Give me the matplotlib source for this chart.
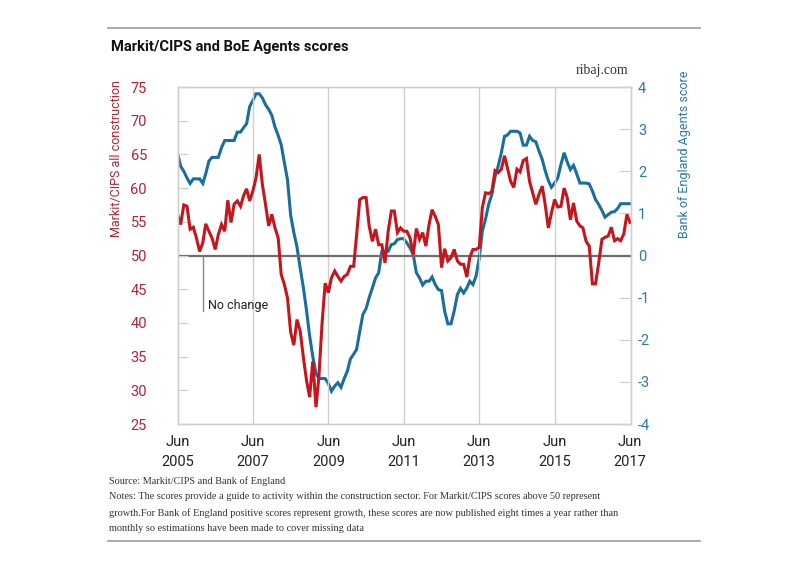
import numpy as np
import pandas as pd
import matplotlib
matplotlib.use("Agg")
import matplotlib.pyplot as plt

# ---- data, monthly from Jun 2005 ----
markit = [56.1, 54.6, 57.5, 57.3, 53.9, 54.2, 52.6, 50.6, 51.9, 54.7,
          53.6, 52.6, 50.9, 53.1, 54.6, 53.6, 58.2, 54.9, 57.6, 58.1,
          57.3, 58.8, 59.9, 58.1, 59.6, 61.5, 65.0, 60.5, 57.6, 54.4,
          56.1, 54.1, 52.6, 47.2, 45.7, 43.7, 38.6, 36.7, 40.5, 38.8,
          35.0, 31.5, 29.0, 34.3, 27.5, 32.0, 40.0, 45.9, 44.5, 46.7,
          47.7, 46.9, 46.2, 46.9, 47.2, 48.4, 48.4, 53.0, 58.3, 58.6,
          58.6, 54.4, 52.1, 53.9, 51.6, 51.6, 48.9, 53.6, 56.6, 56.6,
          53.4, 54.1, 53.6, 53.6, 52.6, 50.1, 54.0, 52.4, 53.4, 51.4,
          54.6, 56.8, 55.8, 54.6, 48.2, 51.0, 49.2, 49.7, 50.9, 49.2,
          48.7, 48.7, 46.8, 49.7, 50.9, 50.9, 51.2, 57.1, 59.3, 59.2,
          59.5, 62.6, 62.3, 62.8, 64.8, 63.0, 61.0, 60.1, 62.8, 62.4,
          64.1, 64.4, 61.0, 59.3, 57.6, 59.1, 60.3, 57.6, 54.1, 56.3,
          58.3, 57.2, 57.3, 60.0, 58.6, 55.3, 57.8, 55.1, 54.4, 54.1,
          52.1, 51.4, 45.8, 45.8, 48.9, 52.4, 52.7, 52.9, 54.2, 52.2,
          52.5, 52.2, 53.2, 56.1, 54.9]

boe = [2.44, 2.12, 2.00, 1.84, 1.71, 1.82, 1.82, 1.82, 1.71, 1.94,
       2.24, 2.33, 2.33, 2.33, 2.56, 2.73, 2.73, 2.73, 2.73, 2.93,
       2.93, 3.03, 3.13, 3.54, 3.68, 3.84, 3.84, 3.74, 3.58, 3.47,
       3.33, 3.05, 2.85, 2.63, 2.20, 1.80, 0.95, 0.55, 0.20, -0.30,
       -0.75, -1.30, -1.90, -2.40, -2.80, -2.92, -2.92, -2.92, -3.04, -3.22,
       -3.10, -3.02, -3.13, -2.92, -2.75, -2.45, -2.34, -2.23, -1.80, -1.40,
       -1.26, -1.00, -0.77, -0.53, -0.41, 0.10, 0.10, 0.10, 0.26, 0.28,
       0.38, 0.40, 0.40, 0.30, 0.18, 0.02, -0.41, -0.53, -0.70, -0.61,
       -0.61, -0.51, -0.69, -0.81, -0.83, -1.32, -1.62, -1.62, -1.32, -0.93,
       -0.78, -0.89, -0.77, -0.61, -0.69, -0.49, -0.06, 0.58, 0.87, 1.22,
       1.45, 1.87, 2.12, 2.44, 2.83, 2.86, 2.95, 2.95, 2.95, 2.91,
       2.62, 2.62, 2.83, 2.73, 2.70, 2.48, 2.28, 2.02, 1.78, 1.62,
       1.72, 1.84, 2.16, 2.44, 2.22, 2.04, 2.14, 1.94, 1.72, 1.72,
       1.72, 1.70, 1.53, 1.33, 1.21, 1.07, 0.91, 0.97, 1.03, 1.04,
       1.12, 1.23, 1.23, 1.23, 1.23]

left_ticks = [25, 30, 35, 40, 45, 50, 55, 60, 65, 70, 75]
right_ticks = [-4, -3, -2, -1, 0, 1, 2, 3, 4]
tick_years = [2005, 2007, 2009, 2011, 2013, 2015, 2017]

dates = pd.date_range("2005-06-01", periods=len(markit), freq="MS")

RED = "#c4161c"
BLUE = "#1a6e9e"
RED_TXT = "#b02433"
BLUE_TXT = "#2a7aa8"
GRID = "#cfcfcf"

plt.rcParams["font.family"] = ["Roboto", "DejaVu Sans"]

fig = plt.figure(figsize=(8, 5.71), dpi=100)
ax = fig.add_axes([0.2219, 0.2574, 0.5669, 0.5902])
ax2 = ax.twinx()
ax.set_zorder(ax2.get_zorder() + 1)
ax.patch.set_visible(False)

ax2.plot(dates, boe, color=BLUE, lw=2.2, solid_joinstyle="miter")
ax.plot(dates, markit, color=RED, lw=2.2, solid_joinstyle="miter")

# no change line
ax.axhline(50, color="#6e6e6e", lw=1.6, zorder=1)

ax.set_ylim(25, 75)
ax2.set_ylim(-4, 4)
ax.set_xlim(pd.Timestamp("2005-06-01"), pd.Timestamp("2017-06-10"))

xt = [pd.Timestamp(f"{y}-06-01") for y in tick_years]
ax.set_xticks(xt)
ax.set_xticklabels([f"Jun\n{y}" for y in tick_years], linespacing=1.55)
for t in xt[1:-1]:
    ax.axvline(t, color=GRID, lw=1, zorder=0)

ax.set_yticks(left_ticks)
ax.set_yticklabels([str(v) for v in left_ticks])
ax2.set_yticks(right_ticks)
ax2.set_yticklabels([str(v) for v in right_ticks])

for a in (ax, ax2):
    for s in a.spines.values():
        s.set_color(GRID)
        s.set_linewidth(1)

ax.tick_params(axis="x", length=0, pad=8, labelsize=10.5, labelcolor="#222222")
ax.tick_params(axis="y", direction="in", length=7, color=GRID, pad=22,
               labelsize=10.5, labelcolor=RED_TXT)
ax2.tick_params(axis="y", direction="in", length=9, color=GRID, pad=5,
                labelsize=10.5, labelcolor=BLUE_TXT)

# "No change" marker: thin leader line below the 50 line, text to its right
nc_x = pd.Timestamp("2006-02-01")
ax.plot([nc_x, nc_x], [49.8, 41.8], color="#8a8a8a", lw=1, zorder=1)
ax.annotate("No change", xy=(nc_x, 42.6), xytext=(5, 0),
            textcoords="offset pixels", fontsize=9, color="#222222",
            va="center", ha="left")

# axis titles
fig.text(0.146, 0.723, "Markit/CIPS all construction", rotation=90,
         color=RED_TXT, fontsize=9, ha="center", va="center")
fig.text(0.856, 0.730, "Bank of England Agents score", rotation=90,
         color=BLUE_TXT, fontsize=9, ha="center", va="center")

# frame lines, title, credit
fig.add_artist(plt.Line2D([0.135, 0.875], [0.951, 0.951], color="#9a9a9a", lw=1.2))
fig.add_artist(plt.Line2D([0.135, 0.875], [0.0525, 0.0525], color="#9a9a9a", lw=1.2))
fig.text(0.139, 0.9177, "Markit/CIPS and BoE Agents scores", fontsize=10.6,
         fontweight="bold", color="#111111", va="center", ha="left")
fig.text(0.785, 0.8774, "ribaj.com", fontsize=10, family="Liberation Serif",
         color="#333333", va="center", ha="right")

notes = ["Source: Markit/CIPS and Bank of England",
         "Notes: The scores provide a guide to activity within the construction sector. For Markit/CIPS scores above 50 represent",
         "growth.For Bank of England positive scores represent growth, these scores are now published eight times a year rather than",
         "monthly so estimations have been made to cover missing data"]
for i, line in enumerate(notes):
    fig.text(0.136, 0.1576 - i * 0.028, line, fontsize=7.4,
             family="Liberation Serif", color="#333333", va="center", ha="left")

fig.savefig("out.png", dpi=100)
